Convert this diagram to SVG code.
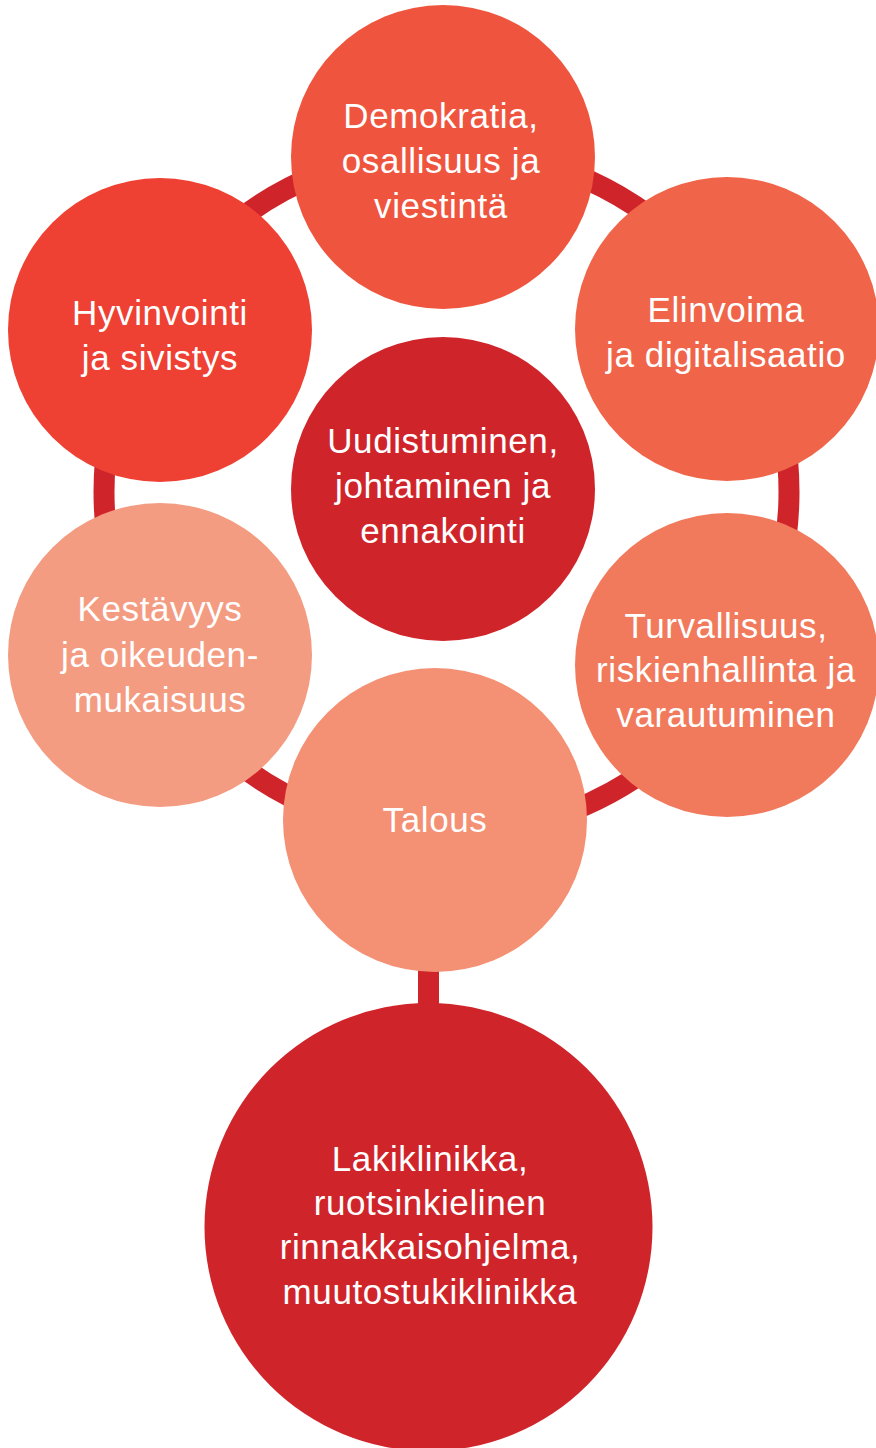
<svg xmlns="http://www.w3.org/2000/svg" width="876" height="1448" viewBox="0 0 876 1448">
<style>
.lbl{font-family:"Liberation Sans",Arial,sans-serif;font-size:35px;fill:#ffffff;text-anchor:middle;letter-spacing:0.6px}
.link{stroke:#D0242B;stroke-width:21;fill:none}
</style>
<rect width="876" height="1448" fill="#ffffff"/>
<g id="connectors">
<circle class="link" cx="446.5" cy="492" r="342.5"/>
<line class="link" x1="428.5" y1="960" x2="428.5" y2="1015"/>
</g>
<g id="node-demokratia">
<circle cx="443" cy="157" r="152" fill="#EF553E"/>
<text class="lbl" x="441" y="128">Demokratia,</text>
<text class="lbl" x="441" y="173">osallisuus ja</text>
<text class="lbl" x="441" y="218">viestintä</text>
</g>
<g id="node-hyvinvointi">
<circle cx="160" cy="330" r="152" fill="#EE4033"/>
<text class="lbl" x="160" y="325">Hyvinvointi</text>
<text class="lbl" x="160" y="370">ja sivistys</text>
</g>
<g id="node-elinvoima">
<circle cx="727" cy="329" r="152" fill="#F06449"/>
<text class="lbl" x="726" y="322">Elinvoima</text>
<text class="lbl" x="726" y="367">ja digitalisaatio</text>
</g>
<g id="node-uudistuminen">
<circle cx="443" cy="489" r="152" fill="#D0242B"/>
<text class="lbl" x="443" y="453">Uudistuminen,</text>
<text class="lbl" x="443" y="498">johtaminen ja</text>
<text class="lbl" x="443" y="543">ennakointi</text>
</g>
<g id="node-kestavyys">
<circle cx="160" cy="655" r="152" fill="#F49C82"/>
<text class="lbl" x="160" y="621">Kestävyys</text>
<text class="lbl" x="160" y="667">ja oikeuden-</text>
<text class="lbl" x="160" y="712">mukaisuus</text>
</g>
<g id="node-turvallisuus">
<circle cx="727" cy="665" r="152" fill="#F17A5D"/>
<text class="lbl" x="726" y="638">Turvallisuus,</text>
<text class="lbl" x="726" y="682">riskienhallinta ja</text>
<text class="lbl" x="726" y="727">varautuminen</text>
</g>
<g id="node-talous">
<circle cx="435" cy="820" r="152" fill="#F49073"/>
<text class="lbl" x="435" y="832">Talous</text>
</g>
<g id="node-lakiklinikka">
<circle cx="428.5" cy="1227" r="224" fill="#D0242B"/>
<text class="lbl" x="430" y="1171">Lakiklinikka,</text>
<text class="lbl" x="430" y="1215">ruotsinkielinen</text>
<text class="lbl" x="430" y="1259">rinnakkaisohjelma,</text>
<text class="lbl" x="430" y="1304">muutostukiklinikka</text>
</g>
</svg>
